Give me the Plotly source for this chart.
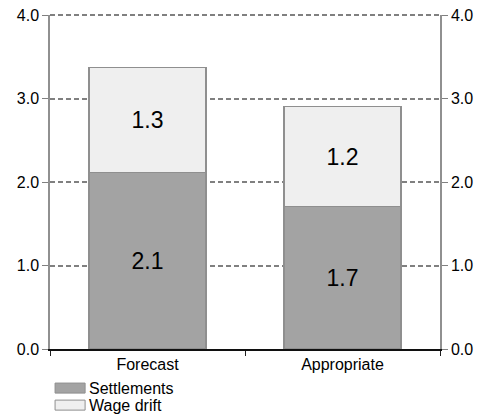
import plotly.graph_objects as go

categories = ["Forecast", "Appropriate"]
series_names = ["Settlements", "Wage drift"]
settlements = [2.11, 1.71]
wage_drift = [1.26, 1.19]
settlement_labels = ["2.1", "1.7"]
drift_labels = ["1.3", "1.2"]
y_ticks = [0, 1, 2, 3, 4]

fill_colors = ["#a3a3a3", "#efefef"]
edge_color = "#8f8f8f"
grid_color = "#808080"

fig = go.Figure()

for name, vals, labels, col in zip(series_names, [settlements, wage_drift],
                                   [settlement_labels, drift_labels], fill_colors):
    fig.add_trace(go.Bar(
        x=categories, y=vals, name=name,
        text=labels, textposition="inside", insidetextanchor="middle",
        textfont=dict(size=23, color="black"),
        marker=dict(color=col, line=dict(color=edge_color, width=1.2)),
        width=0.6, showlegend=False,
    ))

# invisible trace to carry the right-hand axis
fig.add_trace(go.Scatter(x=categories, y=[0, 0], yaxis="y2", mode="markers",
                         marker=dict(opacity=0), showlegend=False, hoverinfo="skip"))

tick_text = [f"{v:.1f}" for v in y_ticks]

# page body has an 8px margin, so the figure is sized to fit inside the window
fig.update_layout(
    barmode="stack",
    width=483, height=411,
    margin=dict(l=42, r=51, t=7, b=70),
    plot_bgcolor="white", paper_bgcolor="white",
    font=dict(family="Liberation Sans, Arial, sans-serif", size=16, color="black"),
    xaxis=dict(
        type="category", tickson="boundaries", ticks="outside", ticklen=5,
        tickcolor="#202020", showline=True, linecolor="#101010", linewidth=1.5,
        showgrid=False, tickfont=dict(size=16), automargin=False,
    ),
    yaxis=dict(
        range=[0, 4], tickvals=y_ticks, ticktext=tick_text,
        ticks="outside", ticklen=6, tickcolor="#808080",
        showline=True, linecolor="#909090", linewidth=1.5,
        showgrid=True, gridcolor=grid_color, griddash="5px,3px", gridwidth=2,
        zeroline=False, tickfont=dict(size=16), automargin=False,
        ticklabeloverflow="allow",
    ),
    yaxis2=dict(
        range=[0, 4], tickvals=y_ticks, ticktext=tick_text,
        overlaying="y", side="right",
        ticks="outside", ticklen=6, tickcolor="#808080",
        showline=True, linecolor="#909090", linewidth=1.5,
        showgrid=False, zeroline=False, tickfont=dict(size=16), automargin=False,
        ticklabeloverflow="allow",
    ),
    showlegend=False,
)

# top gridline sits on the plot edge, where plotly drops it, so draw it explicitly
fig.add_shape(type="line", xref="paper", yref="paper", x0=0, x1=1,
              y0=1, y1=1, layer="below",
              line=dict(color=grid_color, width=2, dash="5px,3px"))

# legend drawn below the plot, swatches as wide rectangles
swatch_top = [-0.102, -0.153]
for name, col, top in zip(series_names, fill_colors, swatch_top):
    fig.add_shape(type="rect", xref="paper", yref="paper",
                  x0=0.013, x1=0.09, y0=top, y1=top - 0.03,
                  fillcolor=col, line=dict(color=edge_color, width=1))
    fig.add_annotation(xref="paper", yref="paper", x=0.095, y=top - 0.015,
                       text=name, showarrow=False, xanchor="left", yanchor="middle",
                       font=dict(size=16, color="black"))

fig.write_html("out.html")
